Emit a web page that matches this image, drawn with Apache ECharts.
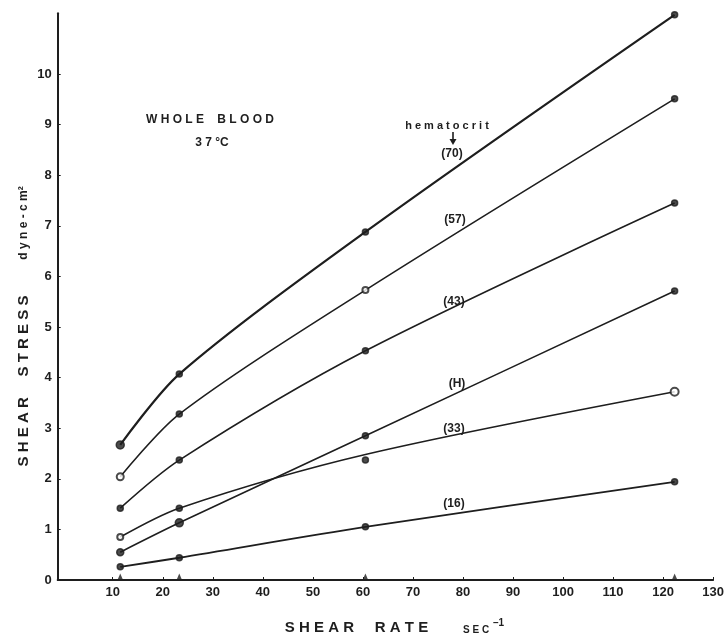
<!DOCTYPE html>
<html>
<head>
<meta charset="utf-8">
<script src="https://cdn.jsdelivr.net/npm/echarts@6/dist/echarts.min.js"></script>
<style>html,body{margin:0;padding:0;background:#fff;}#c{width:727px;height:637px;}</style>
</head>
<body>
<div id="c"></div>
<script>
// ---- data ----
const shearRate = [11.5, 23.3, 60.5, 122.3];          // sec^-1
const hct70 = [2.67, 4.07, 6.88, 11.17];
const hct57 = [2.04, 3.28, 5.73, 9.51];
const hct43 = [1.42, 2.37, 4.53, 7.45];
const hctH  = [0.55, 1.13, 2.85, 5.71];
const hct33 = [0.85, 1.42, 2.37, 3.72];              // measured points
const hct33Curve = [0.85, 1.42, 2.48, 3.72];         // hand-drawn curve
const hct16 = [0.26, 0.44, 1.05, 1.94];
const xTicks = [10, 20, 30, 40, 50, 60, 70, 80, 90, 100, 110, 120, 130];
const yTicks = [0, 1, 2, 3, 4, 5, 6, 7, 8, 9, 10];

const INK = '#1e1e1e';
const FONT = 'Liberation Sans';

function pts(arr) { return shearRate.map((x, i) => [x, arr[i]]); }

// marker looks (filled dot by default)
const special = {
  '70-0': {symbolSize: 8},
  '57-0': {symbol: 'emptyCircle', symbolSize: 7},
  '57-2': {symbol: 'emptyCircle', symbolSize: 6},
  '33-0': {symbol: 'emptyCircle', symbolSize: 6},
  '33-3': {symbol: 'emptyCircle', symbolSize: 8},
  'H-1': {symbolSize: 8},
  'H-0': {symbolSize: 7}
};

const curves = [
  {key: '70', curve: hct70, points: hct70, w: 2.2},
  {key: '57', curve: hct57, points: hct57, w: 1.6},
  {key: '43', curve: hct43, points: hct43, w: 1.6},
  {key: 'H',  curve: hctH,  points: hctH,  w: 1.6},
  {key: '33', curve: hct33Curve, points: hct33, w: 1.6},
  {key: '16', curve: hct16, points: hct16, w: 1.8}
];

const series = [];
curves.forEach(c => {
  series.push({
    type: 'line', name: c.key, data: pts(c.curve), smooth: 0.3,
    showSymbol: false, lineStyle: {color: INK, width: c.w}, silent: true, z: 2
  });
  series.push({
    type: 'scatter', name: c.key + ' pts', z: 3,
    data: pts(c.points).map((p, i) => Object.assign({value: p}, special[c.key + '-' + i] || {})),
    symbol: 'circle', symbolSize: 6,
    itemStyle: {color: INK, borderColor: INK, borderWidth: 1.5}
  });
});
// small triangles on the x axis at the shear rates used
series.push({
  type: 'scatter', name: 'rates', data: shearRate.map(x => [x, 0]),
  symbol: 'triangle', symbolSize: [6, 7], symbolOffset: [0, -3],
  itemStyle: {color: INK}, clip: false, z: 4
});

const txt = (x, y, text, size, extra) => ({
  type: 'text', x: x, y: y,
  style: Object.assign({text: text, fill: INK, font: 'bold ' + size + 'px "' + FONT + '"',
    align: 'center', verticalAlign: 'middle'}, extra || {})
});

const chart = echarts.init(document.getElementById('c'), null, {renderer: 'canvas'});
chart.setOption({
  animation: false,
  backgroundColor: '#fff',
  grid: {left: 57.7, right: 10.4, top: 13.3, bottom: 57},
  xAxis: {
    type: 'value', min: -1, max: 130,
    axisLine: {lineStyle: {color: INK, width: 2}},
    axisTick: {show: true, inside: true, length: 3, customValues: xTicks, lineStyle: {color: INK, width: 1}},
    axisLabel: {customValues: xTicks, color: INK, fontFamily: FONT, fontWeight: 'bold', fontSize: 13, margin: 6},
    splitLine: {show: false}
  },
  yAxis: {
    type: 'value', min: 0, max: 11.2,
    axisLine: {show: true, onZero: false, lineStyle: {color: INK, width: 2}},
    axisTick: {show: true, inside: true, length: 3, customValues: yTicks, lineStyle: {color: INK, width: 1}},
    axisLabel: {customValues: yTicks, color: INK, fontFamily: FONT, fontWeight: 'bold', fontSize: 13, margin: 6},
    splitLine: {show: false}
  },
  series: series,
  graphic: [
    txt(210, 120, 'W H O L E    B L O O D', 12),
    txt(212, 143, '3 7 °C', 12),
    txt(447, 126, 'h e m a t o c r i t', 11),
    {type: 'line', shape: {x1: 453, y1: 132, x2: 453, y2: 140}, style: {stroke: INK, lineWidth: 1.6}},
    {type: 'polygon', shape: {points: [[449.5, 139], [456.5, 139], [453, 145]]}, style: {fill: INK}},
    txt(452, 154, '(70)', 12),
    txt(455, 220, '(57)', 12),
    txt(454, 302, '(43)', 12),
    txt(457, 384, '(H)', 12),
    txt(454, 429, '(33)', 12),
    txt(454, 504, '(16)', 12),
    // axis titles
    txt(356.5, 628, 'S H E A R     R A T E', 15),
    txt(463, 630, 'S E C', 10, {align: 'left'}),
    txt(493, 623, '–1', 10, {align: 'left'}),
    Object.assign(txt(24, 381, 'S H E A R     S T R E S S', 15), {rotation: Math.PI / 2}),
    Object.assign(txt(24, 223, 'd y n e - c m²', 12), {rotation: Math.PI / 2})
  ]
});
</script>
</body>
</html>
